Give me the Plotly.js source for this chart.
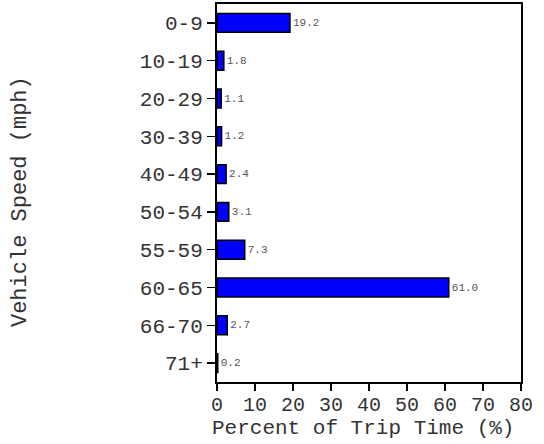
<!DOCTYPE html>
<html><head><meta charset="utf-8">
<script src="https://cdn.plot.ly/plotly-3.0.1.min.js"></script>
<style>html,body{margin:0;padding:0;background:#fff}</style>
</head><body>
<div id="chart" style="width:544px;height:444px"></div>
<script>
var categories = ["0-9","10-19","20-29","30-39","40-49","50-54","55-59","60-65","66-70","71+"];
var values = [19.2, 1.8, 1.1, 1.2, 2.4, 3.1, 7.3, 61.0, 2.7, 0.2];
var xTicks = [0,10,20,30,40,50,60,70,80];

var font = "Liberation Mono, Courier New, monospace";
var trace = {
  type: "bar", orientation: "h",
  x: values, y: categories,
  width: 0.5,
  marker: {color: "#0000ff", line: {color: "#000", width: 1.5}},
  text: values.map(function(v){return v.toFixed(1);}),
  textposition: "outside",
  textfont: {family: font, size: 11, color: "#555"},
  cliponaxis: false,
  hoverinfo: "none"
};
var layout = {
  width: 544, height: 444,
  margin: {l: 217, r: 23, t: 4, b: 62},
  paper_bgcolor: "#fff", plot_bgcolor: "#fff",
  showlegend: false,
  font: {family: font, color: "#333"},
  xaxis: {
    range: [0, 80], tickvals: xTicks, ticktext: xTicks.map(String),
    showgrid: false, zeroline: false,
    showline: true, linecolor: "#000", linewidth: 2, mirror: true,
    ticks: "outside", ticklen: 7, tickwidth: 1.5, tickcolor: "#000",
    ticklabelstandoff: -4,
    tickfont: {family: font, size: 20, color: "#333"},
    fixedrange: true
  },
  yaxis: {
    type: "category", categoryorder: "array", categoryarray: categories,
    autorange: false, range: [9.5, -0.5],
    showgrid: false, zeroline: false,
    showline: true, linecolor: "#000", linewidth: 2, mirror: true,
    ticks: "outside", ticklen: 8, tickwidth: 1.5, tickcolor: "#000",
    tickfont: {family: font, size: 21, color: "#333"},
    fixedrange: true
  },
  annotations: [{
    text: "Vehicle Speed (mph)", textangle: -90,
    xref: "paper", yref: "paper", x: -(217 - 20) / 304, y: 0.476,
    xanchor: "center", yanchor: "middle", showarrow: false,
    font: {family: font, size: 22, color: "#333"}
  }, {
    text: "Percent of Trip Time (%)",
    xref: "paper", yref: "paper", x: (363 - 217) / 304, y: -(428 - 382) / 378,
    xanchor: "center", yanchor: "middle", showarrow: false,
    font: {family: font, size: 21, color: "#333"}
  }]
};
Plotly.newPlot("chart", [trace], layout, {staticPlot: true});
</script>
</body></html>
